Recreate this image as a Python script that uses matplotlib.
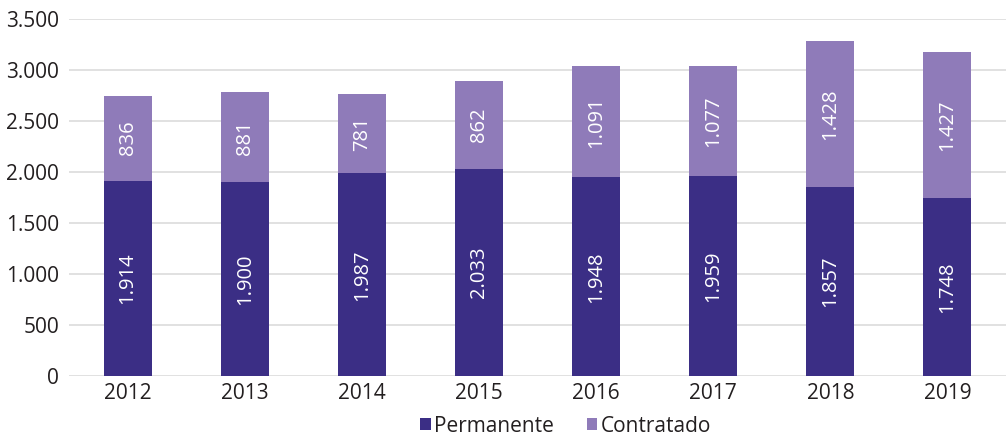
import matplotlib.pyplot as plt
import numpy as np

plt.rcParams['font.family'] = ['Open Sans', 'DejaVu Sans']

anos = ['2012', '2013', '2014', '2015', '2016', '2017', '2018', '2019']
permanente = [1914, 1900, 1987, 2033, 1948, 1959, 1857, 1748]
contratado = [836, 881, 781, 862, 1091, 1077, 1428, 1427]

cor_perm = '#3b2e85'
cor_contr = '#8f7bb9'


def fmt(v):
    return f'{v:,}'.replace(',', '.')


fig = plt.figure(figsize=(10.06, 4.42), dpi=100)
ax = fig.add_axes([0.0686, 0.149, 0.9314, 0.808])

x = np.arange(len(anos))
b1 = ax.bar(x, permanente, width=0.41, color=cor_perm, label='Permanente', zorder=3)
b2 = ax.bar(x, contratado, width=0.41, bottom=permanente, color=cor_contr,
            label='Contratado', zorder=3)

# rótulos dentro das barras
for i in range(len(anos)):
    ax.text(x[i], permanente[i] / 2, fmt(permanente[i]), rotation=90,
            ha='center', va='center', color='white', fontsize=14.5, zorder=4)
    ax.text(x[i], permanente[i] + contratado[i] / 2, fmt(contratado[i]), rotation=90,
            ha='center', va='center', color='white', fontsize=14.5, zorder=4)

ax.set_xlim(-0.5, 7.5)
ax.set_ylim(0, 3500)
ax.set_yticks(range(0, 3501, 500))
ax.set_yticklabels([fmt(v) for v in range(0, 3501, 500)])
ax.set_xticks(x)
ax.set_xticklabels(anos)
ax.tick_params(axis='both', length=0, labelsize=15, colors='#231f20')
ax.tick_params(axis='y', pad=7)
ax.tick_params(axis='x', pad=5)
ax.grid(axis='y', color='#dcdcdc', linewidth=1.2, zorder=0)
for s in ax.spines.values():
    s.set_visible(False)

ax.legend(loc='upper center', bbox_to_anchor=(0.53, -0.07), ncol=2, frameon=False,
          fontsize=15, handlelength=0.5, handleheight=0.5, handletextpad=0.15,
          columnspacing=1.6, labelcolor='#231f20', borderpad=0.2)

fig.savefig('out.png', dpi=100)
